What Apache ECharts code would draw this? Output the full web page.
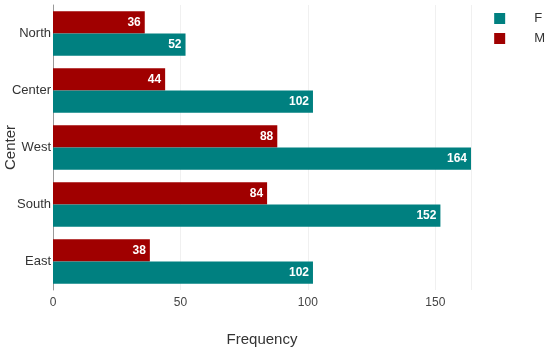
<!DOCTYPE html>
<html><head><meta charset="utf-8">
<script src="https://cdn.jsdelivr.net/npm/echarts@6/dist/echarts.min.js"></script>
<style>html,body{margin:0;padding:0;background:#fff}#c{width:550px;height:350px}</style>
</head><body><div id="c"></div>
<script>
const categories = ['East', 'South', 'West', 'Center', 'North'];
const seriesF = [102, 152, 164, 102, 52];
const seriesM = [38, 84, 88, 44, 36];
const xTicks = [0, 50, 100, 150];

const chart = echarts.init(document.getElementById('c'));
const font = 'Arial, "Liberation Sans", sans-serif';
const lbl = {show: true, position: 'insideRight', color: '#fff', fontSize: 12, fontWeight: 'bold', fontFamily: font, distance: 4};
chart.setOption({
  animation: false,
  textStyle: {fontFamily: font},
  legend: {
    data: ['F', 'M'], orient: 'vertical', right: 0, top: 7,
    icon: 'rect', itemWidth: 11, itemHeight: 11, itemGap: 7,
    textStyle: {fontSize: 13, color: '#333', padding: [0, 0, 0, 24]}
  },
  grid: {left: 53, right: 79, top: 5, bottom: 60, outerBoundsMode: 'none', containLabel: false},
  xAxis: {
    type: 'value', min: 0, max: 164, interval: 50,
    name: 'Frequency', nameLocation: 'middle', nameGap: 42, nameMoveOverlap: false,
    nameTextStyle: {fontSize: 15, color: '#333'},
    axisLine: {show: false}, axisTick: {show: false},
    axisLabel: {color: '#444', fontSize: 12, showMaxLabel: false, margin: 7,
      formatter: v => xTicks.includes(v) ? String(v) : ''},
    splitLine: {lineStyle: {color: '#f0f0f0'}}
  },
  yAxis: {
    type: 'category', data: categories,
    name: 'Center', nameLocation: 'middle', nameGap: 35, nameRotate: 90, nameMoveOverlap: false,
    nameTextStyle: {fontSize: 15, color: '#333'},
    axisLine: {show: true, lineStyle: {color: '#999'}},
    axisTick: {show: false},
    axisLabel: {color: '#333', fontSize: 13, margin: 2}
  },
  series: [
    {name: 'M', type: 'bar', data: seriesM, itemStyle: {color: '#a00000'},
     barGap: '0%', barCategoryGap: '22%', label: lbl},
    {name: 'F', type: 'bar', data: seriesF, itemStyle: {color: '#008080'},
     barGap: '0%', barCategoryGap: '22%', label: lbl}
  ]
});
</script></body></html>
